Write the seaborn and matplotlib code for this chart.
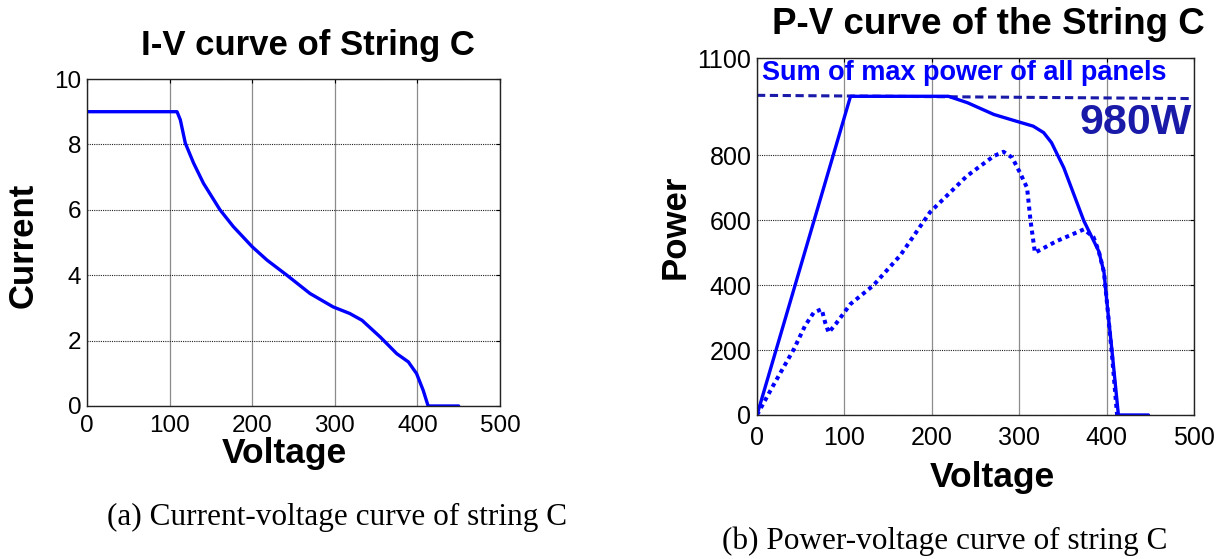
import matplotlib
matplotlib.use("Agg")
import matplotlib.pyplot as plt
import seaborn as sns
import pandas as pd

# ---------------- data ----------------
iv_voltage = [0, 109, 113, 119, 129, 141, 161, 177, 200, 218, 242, 270, 298, 318, 333, 355, 375, 389, 399, 407, 413, 450]
iv_current = [9.0, 9.0, 8.75, 8.04, 7.43, 6.81, 6.0, 5.49, 4.87, 4.46, 4.0, 3.44, 3.03, 2.83, 2.62, 2.11, 1.60, 1.35, 0.99, 0.48, 0.0, 0.0]

pv_max_voltage = [0, 107, 219, 241, 271, 297, 316, 328, 337, 351, 374, 391, 397, 400, 406, 413.5, 448]
pv_max_power = [0, 982, 982, 962, 926, 905, 890, 870, 839, 762, 598, 505, 440, 357, 202, 0, 0]

pv_str_voltage = [0, 19, 42, 55, 65, 74, 78, 82, 90, 107, 133, 164, 198, 240, 271, 282, 292, 301, 309, 313, 318,
                  343, 374, 385, 391, 397, 401, 406, 412]
pv_str_power = [0, 93, 202, 275, 316, 326, 285, 254, 280, 342, 399, 492, 625, 736, 798, 811, 793, 746, 700, 598, 500,
                536, 572, 548, 505, 440, 330, 190, 0]

sum_voltage = [0, 497]
sum_power = [985, 975]

x_ticks = [0, 100, 200, 300, 400, 500]
iv_y_ticks = [0, 2, 4, 6, 8, 10]
pv_y_ticks = [0, 200, 400, 600, 800, 1100]

# ---------------- style ----------------
sns.set_style("white")
plt.rcParams['font.family'] = ['Liberation Sans', 'DejaVu Sans']
plt.rcParams['text.color'] = 'black'
plt.rcParams['axes.labelcolor'] = 'black'

BLUE = "#0000FF"
NAVY = "#1a1aa8"

fig = plt.figure(figsize=(12.29, 5.59), dpi=100)
ax1 = fig.add_axes([87 / 1229, 1 - 406 / 559, 413 / 1229, 327 / 559])
ax2 = fig.add_axes([757 / 1229, 1 - 415 / 559, 437 / 1229, 357 / 559])

iv_df = pd.DataFrame({"Voltage": iv_voltage, "Current": iv_current})
sns.lineplot(data=iv_df, x="Voltage", y="Current", ax=ax1, color=BLUE, lw=2.4,
             estimator=None, sort=False)

max_df = pd.DataFrame({"Voltage": pv_max_voltage, "Power": pv_max_power})
str_df = pd.DataFrame({"Voltage": pv_str_voltage, "Power": pv_str_power})
sum_df = pd.DataFrame({"Voltage": sum_voltage, "Power": sum_power})
sns.lineplot(data=sum_df, x="Voltage", y="Power", ax=ax2, color=NAVY, lw=2.2,
             linestyle=(0, (2.7, 1.5)), estimator=None, sort=False)
sns.lineplot(data=max_df, x="Voltage", y="Power", ax=ax2, color=BLUE, lw=2.4,
             estimator=None, sort=False)
sns.lineplot(data=str_df, x="Voltage", y="Power", ax=ax2, color=BLUE, lw=2.9,
             linestyle=(0, (1, 1)), estimator=None, sort=False)

for ax, yt, ylim, xpad, lsize in [(ax1, iv_y_ticks, (0, 10), 6.5, 17.5),
                                  (ax2, pv_y_ticks, (0, 1100), 8, 18)]:
    ax.set_xlim(0, 500)
    ax.set_ylim(*ylim)
    ax.set_xticks(x_ticks)
    ax.set_yticks(yt)
    ax.set_xlabel("")
    ax.set_ylabel("")
    ax.tick_params(axis="both", direction="in", length=3, width=0.8, labelsize=lsize,
                   colors="black", top=True, right=True)
    ax.tick_params(axis="x", pad=xpad)
    ax.tick_params(axis="y", pad=4)
    ax.xaxis.grid(True, color="#8c8c8c", lw=0.9, ls="-")
    ax.yaxis.grid(True, color="#222222", lw=0.8, ls=(0, (1, 1)))
    ax.set_axisbelow(True)
    for s in ax.spines.values():
        s.set_visible(True)
        s.set_color("#222222")
        s.set_linewidth(1.0)

# annotations on the P-V plot
ax2.text(0.011, 0.958, "Sum of max power of all panels", transform=ax2.transAxes,
         color=BLUE, fontsize=19.5, fontweight="bold", ha="left", va="center")
ax2.text(0.995, 0.818, "980W", transform=ax2.transAxes,
         color=NAVY, fontsize=31, fontweight="bold", ha="right", va="center")

# titles and axis labels
fig.text(308 / 1229, 1 - 45 / 559, "I-V curve of String C", fontsize=25, fontweight="bold",
         ha="center", va="center")
fig.text(988 / 1229, 1 - 25 / 559, "P-V curve of the String C", fontsize=26.5, fontweight="bold",
         ha="center", va="center")
fig.text(284 / 1229, 1 - 453 / 559, "Voltage", fontsize=25.5, fontweight="bold", ha="center", va="center")
fig.text(992 / 1229, 1 - 478 / 559, "Voltage", fontsize=25.5, fontweight="bold", ha="center", va="center")
fig.text(23 / 1229, 1 - 245 / 559, "Current", fontsize=25, fontweight="bold", ha="center", va="center",
         rotation=90)
fig.text(675 / 1229, 1 - 227 / 559, "Power", fontsize=25, fontweight="bold", ha="center", va="center",
         rotation=90)

# captions
fig.text(107 / 1229, 1 - 517 / 559, "(a) Current-voltage curve of string C", fontsize=22.5,
         family=["Liberation Serif", "DejaVu Serif"], ha="left", va="center")
fig.text(722 / 1229, 1 - 541 / 559, "(b) Power-voltage curve of string C", fontsize=22.5,
         family=["Liberation Serif", "DejaVu Serif"], ha="left", va="center")

fig.savefig("out.png", dpi=100)
